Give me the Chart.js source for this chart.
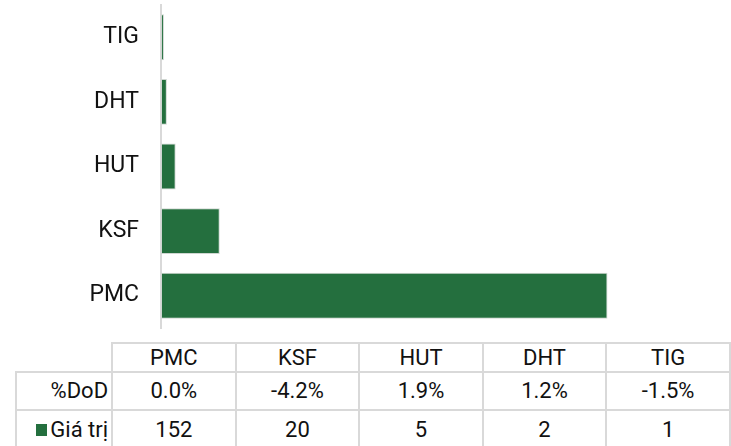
<!DOCTYPE html>
<html>
<head>
<meta charset="utf-8">
<script src="https://cdn.jsdelivr.net/npm/chart.js@4"></script>
<style>
  body { margin: 0; background: #fff; font-family: Roboto, sans-serif; }
  #wrap { position: relative; width: 731px; height: 446px; overflow: hidden; }
  #barChart { position: absolute; left: 0; top: 0; }
  #dataTable {
    position: absolute; left: 15px; top: 342px;
    border-collapse: collapse; table-layout: fixed;
    font-size: 22px; color: #111;
  }
  #dataTable td { border: 2px solid #d9d9d9; text-align: center; padding: 0; white-space: nowrap; line-height: 26px; }
  #dataTable tr.head td { height: 27px; }
  #dataTable tr.head td.blank { border-top: none; border-left: none; }
  #dataTable tr.dod td { height: 36px; }
  #dataTable tr.val td { height: 38px; }
  #dataTable td.lbl { text-align: right; padding-right: 3px; }
  .key { display: inline-block; width: 11px; height: 12px; background: #246f3e; margin-right: 3px; vertical-align: 1px; }
</style>
</head>
<body>
<div id="wrap">
  <canvas id="barChart" width="731" height="340"></canvas>
  <table id="dataTable"></table>
</div>
<script>
var categories = ["PMC", "KSF", "HUT", "DHT", "TIG"];
var values = [152, 20, 5, 2, 1];
var dod = ["0.0%", "-4.2%", "1.9%", "1.2%", "-1.5%"];

var barColor = "#246f3e";

// table below the chart
var table = document.getElementById("dataTable");
var colgroup = '<colgroup><col style="width:97px">';
categories.forEach(function () { colgroup += '<col style="width:127px">'; });
colgroup += '</colgroup>';

var head = '<tr class="head"><td class="blank"></td>';
categories.forEach(function (c) { head += '<td>' + c + '</td>'; });
head += '</tr>';

var rowDod = '<tr class="dod"><td class="lbl">%DoD</td>';
dod.forEach(function (d) { rowDod += '<td>' + d + '</td>'; });
rowDod += '</tr>';

var rowVal = '<tr class="val"><td class="lbl"><span class="key"></span>Giá trị</td>';
values.forEach(function (v) { rowVal += '<td>' + v + '</td>'; });
rowVal += '</tr>';

table.innerHTML = colgroup + head + rowDod + rowVal;

// bars: TIG on top, PMC at bottom
var ctx = document.getElementById("barChart").getContext("2d");
var barChart = new Chart(ctx, {
    type: "bar",
    data: {
        labels: categories.slice().reverse(),
        datasets: [{
            label: "Giá trị",
            data: values.slice().reverse(),
            backgroundColor: barColor,
            borderColor: "#cfd6d1",
            borderWidth: 1,
            borderSkipped: false,
            categoryPercentage: 1,
            barPercentage: 0.71
        }]
    },
    options: {
        indexAxis: "y",
        responsive: false,
        animation: false,
        layout: { padding: { top: 5, right: 100, bottom: 12, left: 0 } },
        plugins: { legend: { display: false }, tooltip: { enabled: false } },
        scales: {
            x: { display: false, min: 0, max: 160 },
            y: {
                afterFit: function (scale) {
                    scale.width = 161;
                    scale.paddingTop = 0;
                    scale.paddingBottom = 0;
                },
                grid: { display: false, drawTicks: false },
                border: { display: true, color: "#d9d9d9", width: 2 },
                ticks: { padding: 22, color: "#111", font: { family: "Roboto", size: 23 } }
            }
        }
    }
});
</script>
</body>
</html>
